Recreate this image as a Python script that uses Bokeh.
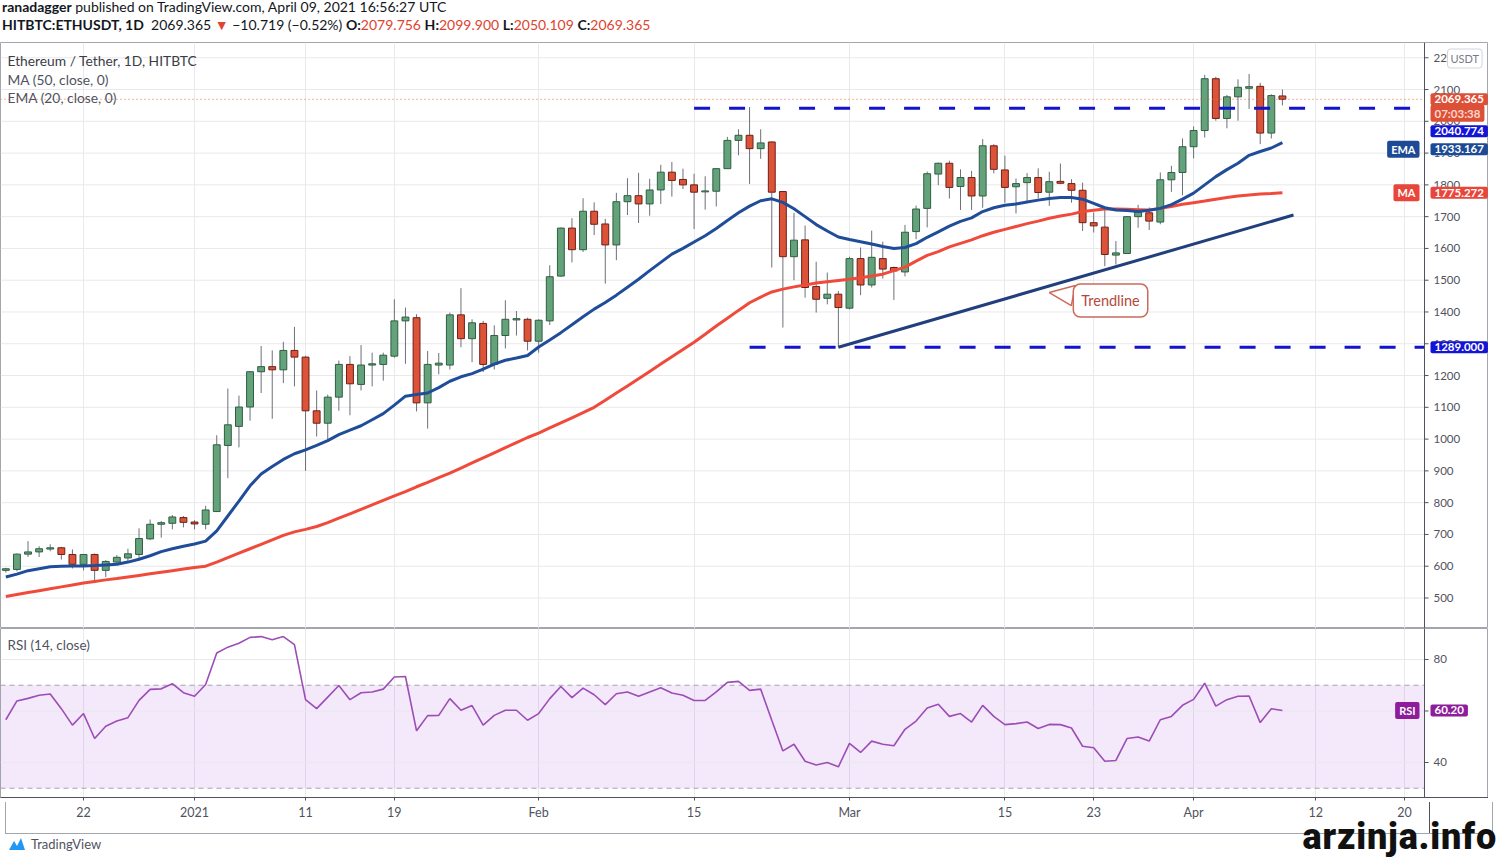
import pandas as pd
from bokeh.plotting import figure
from bokeh.models import (ColumnDataSource, FixedTicker, Label, Span, BoxAnnotation,
                          Div, Range1d, Grid)
from bokeh.layouts import column
from bokeh.embed import file_html
from bokeh.resources import INLINE
from bokeh.core.properties import value

FONT = "Lato"

# ---------------- data ----------------
start_date = "2020-12-15"
n_days = 116
dates = pd.date_range(start_date, periods=n_days, freq="D")

opens = [587, 590, 638, 645, 654, 658, 637, 606, 637, 587,
         613, 626, 637, 686, 732, 735, 753, 739, 732, 772,
         980, 1040, 1101, 1212, 1228, 1218, 1279, 1258, 1089, 1050,
         1132, 1235, 1172, 1233, 1235, 1261, 1372, 1382, 1114, 1233,
         1233, 1391, 1316, 1364, 1235, 1326, 1375, 1377, 1308, 1372,
         1513, 1664, 1596, 1717, 1677, 1611, 1747, 1766, 1740, 1784,
         1840, 1817, 1800, 1778, 1780, 1851, 1940, 1956, 1914, 1935,
         1779, 1574, 1627, 1480, 1443, 1456, 1412, 1568, 1485, 1568,
         1540, 1526, 1653, 1726, 1834, 1868, 1795, 1823, 1765, 1923,
         1847, 1794, 1807, 1823, 1777, 1811, 1804, 1783, 1681, 1667,
         1579, 1584, 1700, 1712, 1683, 1816, 1839, 1920, 1971, 2134,
         2009, 2077, 2104, 2110, 1963, 2079.756]
highs = [595, 640, 679, 663, 669, 661, 653, 638, 640, 619,
         635, 655, 719, 747, 742, 761, 758, 745, 790, 1012,
         1159, 1137, 1214, 1293, 1279, 1306, 1353, 1262, 1153, 1140,
         1247, 1261, 1296, 1272, 1272, 1440, 1414, 1393, 1277, 1271,
         1398, 1475, 1377, 1372, 1358, 1437, 1403, 1382, 1377, 1547,
         1666, 1695, 1758, 1745, 1693, 1775, 1821, 1838, 1819, 1863,
         1872, 1851, 1835, 1827, 1853, 1951, 1975, 2045, 1975, 1937,
         1781, 1712, 1672, 1558, 1524, 1466, 1574, 1603, 1656, 1621,
         1543, 1674, 1735, 1842, 1870, 1876, 1849, 1844, 1944, 1928,
         1892, 1820, 1837, 1852, 1841, 1867, 1818, 1807, 1713, 1725,
         1623, 1702, 1737, 1729, 1839, 1860, 1946, 1984, 2146, 2140,
         2083, 2132, 2149, 2121, 2085, 2099.9]
lows = [580, 584, 629, 629, 647, 621, 593, 587, 550, 566,
        608, 616, 626, 682, 690, 716, 722, 716, 716, 772,
        877, 974, 1058, 1145, 1064, 1176, 1166, 900, 1008, 998,
        1089, 1075, 1153, 1166, 1184, 1256, 1237, 1087, 1033, 1204,
        1219, 1289, 1242, 1211, 1219, 1285, 1326, 1279, 1272, 1359,
        1511, 1556, 1589, 1642, 1489, 1563, 1705, 1680, 1703, 1740,
        1763, 1787, 1661, 1722, 1732, 1851, 1893, 1803, 1882, 1540,
        1351, 1500, 1445, 1398, 1424, 1289, 1408, 1453, 1477, 1505,
        1438, 1512, 1629, 1666, 1799, 1757, 1721, 1721, 1728, 1836,
        1744, 1710, 1749, 1757, 1734, 1802, 1744, 1655, 1650, 1544,
        1549, 1584, 1665, 1658, 1676, 1778, 1767, 1883, 1949, 2002,
        1978, 2002, 2039, 1928, 1946, 2050.109]
closes = [592, 638, 645, 655, 658, 637, 606, 637, 587, 615,
          628, 639, 687, 732, 737, 755, 738, 733, 777, 982,
          1045, 1101, 1212, 1228, 1218, 1279, 1258, 1089, 1050, 1132,
          1235, 1174, 1233, 1237, 1264, 1372, 1384, 1114, 1235, 1239,
          1391, 1316, 1366, 1235, 1326, 1377, 1379, 1308, 1374, 1511,
          1664, 1596, 1717, 1676, 1611, 1747, 1766, 1740, 1784, 1840,
          1814, 1800, 1777, 1781, 1851, 1940, 1956, 1914, 1932, 1777,
          1574, 1626, 1477, 1440, 1456, 1414, 1568, 1485, 1572, 1535,
          1529, 1651, 1724, 1835, 1868, 1792, 1823, 1765, 1923, 1849,
          1792, 1804, 1823, 1776, 1810, 1805, 1783, 1681, 1671, 1581,
          1586, 1700, 1715, 1686, 1816, 1839, 1920, 1971, 2134, 2009,
          2077, 2107, 2109, 1963, 2081, 2069.365]

ema20 = [566, 575, 586, 592, 598, 600, 601, 601, 602, 604,
         606, 613, 622, 633, 646, 655, 663, 670, 679, 711,
         758, 805, 853, 890, 914, 936, 954, 966, 980, 995,
         1014, 1028, 1042, 1061, 1080, 1107, 1135, 1140, 1145, 1162,
         1182, 1196, 1206, 1220, 1236, 1248, 1255, 1263, 1290, 1312,
         1335, 1360, 1385, 1409, 1430, 1453, 1478, 1503, 1530, 1556,
         1582, 1600, 1620, 1640, 1663, 1688, 1712, 1733, 1750, 1756,
         1745, 1725, 1700, 1675, 1655, 1636, 1628, 1621, 1614, 1606,
         1600, 1603, 1615, 1635, 1652, 1670, 1685, 1696, 1716, 1728,
         1736, 1740, 1746, 1752, 1757, 1760, 1760, 1755, 1742, 1728,
         1721, 1719, 1716, 1720, 1726, 1738, 1755, 1774, 1800, 1826,
         1848, 1868, 1893, 1905, 1916, 1933.167]
ma50 = [505, 511, 517, 523, 529, 535, 541, 547, 552, 557,
        561, 566, 571, 576, 581, 586, 591, 596, 600, 613,
        627, 641, 655, 669, 683, 697, 708, 716, 725, 737,
        751, 765, 779, 793, 807, 821, 835, 850, 864, 879,
        893, 909, 925, 941, 957, 973, 989, 1005, 1019, 1035,
        1051, 1067, 1083, 1100, 1122, 1145, 1167, 1190, 1213, 1236,
        1259, 1282, 1305, 1330, 1356, 1380, 1405, 1429, 1447, 1463,
        1472, 1479, 1485, 1491, 1495, 1499, 1503, 1508, 1513, 1519,
        1530, 1541, 1560, 1578, 1590, 1605, 1616, 1627, 1640, 1651,
        1660, 1669, 1678, 1686, 1695, 1702, 1708, 1716, 1720, 1724,
        1724, 1723, 1722, 1721, 1726, 1732, 1739, 1744, 1749, 1755,
        1760, 1765, 1768, 1771, 1773, 1775.272]
rsi14 = [56.6, 63.9, 64.9, 66.1, 66.6, 60.9, 54.5, 59.0, 49.3, 54.1,
         56.1, 57.4, 64.1, 68.4, 68.6, 70.6, 67.1, 65.7, 70.3, 82.5,
         84.8, 86.3, 88.6, 88.9, 87.7, 88.9, 85.8, 64.4, 60.9, 65.4,
         69.9, 64.4, 67.1, 67.4, 68.5, 73.2, 73.4, 52.3, 58.2, 58.3,
         64.8, 60.3, 62.1, 54.5, 58.3, 60.3, 60.3, 56.4, 59.0, 64.8,
         69.5, 65.2, 68.9, 66.3, 62.5, 66.7, 67.4, 65.7, 67.4, 69.0,
         67.0, 66.1, 64.1, 64.1, 67.4, 71.1, 71.5, 68.0, 68.5, 56.4,
         44.5, 47.1, 40.5, 39.0, 40.0, 38.3, 47.4, 43.9, 48.3, 47.1,
         46.5, 52.9, 56.1, 61.2, 62.6, 57.9, 59.0, 55.7, 62.2, 57.9,
         54.7, 55.1, 55.7, 53.2, 54.8, 54.7, 53.4, 46.3, 45.7, 40.5,
         40.8, 49.3, 49.9, 48.3, 56.6, 57.9, 62.2, 64.5, 70.8, 61.9,
         64.4, 65.7, 65.8, 55.5, 60.9, 60.20]

# horizontal levels drawn by the author
level_prices = [2040.774, 1289.0]
level_starts = ["2021-02-15", "2021-02-20"]
# trendline
trend_dates = ["2021-02-28", "2021-04-10"]
trend_prices = [1289, 1705]
callout_date = "2021-03-19"
callout_price = 1461
countdown = "07:03:38"

# time axis
tick_dates = ["2020-12-22", "2021-01-01", "2021-01-11", "2021-01-19", "2021-02-01",
              "2021-02-15", "2021-03-01", "2021-03-15", "2021-03-23", "2021-04-01",
              "2021-04-12", "2021-04-20"]
tick_labels = ["22", "2021", "11", "19", "Feb", "15", "Mar", "15", "23", "Apr", "12", "20"]
price_ticks = list(range(500, 2300, 100))
rsi_ticks = [40, 60, 80]

# ---------------- helpers ----------------
t0 = dates[0]
def day_of(d):
    return (pd.Timestamp(d) - t0).days

day = [(d - t0).days for d in dates]
tick_days = [day_of(d) for d in tick_dates]

GRID = "#e9e9ec"
AXIS = "#50535e"
LABEL = "#50535e"
BORDER = "#a3a6af"
UP_FILL, UP_LINE = "#64a27c", "#2f5e40"
DN_FILL, DN_LINE = "#dc5339", "#6d2016"
WICK = "#6e7079"

FULL_W = 1488          # whole chart width (plot + price scale)
SCALE_W = 64           # price scale width
HEAD_H = 32
MAIN_H = 586
RSI_FRAME_H = 169
AXIS_H = 31
FOOT_H = 23

x_start, AX_X = -0.48, 127.8                  # AX_X: where the price scale begins
px_day = (FULL_W - SCALE_W) / (AX_X - x_start)
def dx(px):
    return px / px_day
xr = Range1d(x_start, AX_X + dx(SCALE_W))

ymin, ymax = 404, 2248
ppu = MAIN_H / (ymax - ymin)
def p2y(px_from_top):
    return ymax - px_from_top / ppu
def y2p(price):
    return (ymax - price) * ppu


def price_scale(fig, ticks, size="11.5px"):
    k = len(ticks)
    fig.segment(x0=[xr.start] * k, y0=ticks, x1=[AX_X] * k, y1=ticks,
                line_color=GRID, line_width=1)
    fig.add_layout(Span(location=AX_X, dimension="height", line_color=AXIS, line_width=1))
    fig.segment(x0=[AX_X] * k, y0=ticks, x1=[AX_X + dx(4)] * k, y1=ticks,
                line_color=AXIS, line_width=1)
    fig.text(x=[AX_X + dx(9)] * k, y=ticks, text=[str(t) for t in ticks],
             text_font=value(FONT), text_font_size=size, text_color=LABEL,
             text_align="left", text_baseline="middle")


PAD_X, PAD_Y = 4, 2
TAG_PAD = dict(left=PAD_X, right=PAD_X, top=PAD_Y, bottom=PAD_Y)

def tag(fig, xpos, ycenter, text, bg, color="white", align="left", size="11.5px"):
    fig.add_layout(Label(x=xpos, y=ycenter, text=text,
                         text_align=align, text_baseline="middle", text_font=FONT,
                         text_font_size=size, text_font_style="bold", text_color=color,
                         background_fill_color=bg, padding=TAG_PAD, border_radius=2))


def vgrid(fig):
    t = FixedTicker(ticks=tick_days)
    if len(fig.xgrid):
        fig.xgrid.ticker = t
        fig.xgrid.grid_line_color = GRID
    else:
        fig.add_layout(Grid(dimension=0, ticker=t, grid_line_color=GRID))
    if len(fig.ygrid):
        fig.ygrid.visible = False


# ---------------- main pane ----------------
p = figure(width=FULL_W, height=MAIN_H, x_range=xr, y_range=Range1d(ymin, ymax),
           x_axis_location=None, y_axis_location=None,
           output_backend="svg", toolbar_location=None,
           min_border_left=0, min_border_right=0, min_border_top=0, min_border_bottom=0,
           background_fill_color="white", border_fill_color="white",
           outline_line_color=BORDER)
vgrid(p)
price_scale(p, price_ticks)

up = [c >= o for o, c in zip(opens, closes)]
src = ColumnDataSource(dict(
    x=day, h=highs, l=lows,
    top=[max(o, c) for o, c in zip(opens, closes)],
    bottom=[min(o, c) for o, c in zip(opens, closes)],
    fill=[UP_FILL if u else DN_FILL for u in up],
    line=[UP_LINE if u else DN_LINE for u in up],
))
p.segment(x0="x", y0="h", x1="x", y1="l", source=src, line_color=WICK, line_width=1)
p.vbar(x="x", width=0.62, top="top", bottom="bottom", source=src,
       fill_color="fill", line_color="line", line_width=1)

p.line(day, ma50, line_color="#f04a3b", line_width=3)
p.line(day, ema20, line_color="#1f4d99", line_width=3)
p.line([day_of(d) for d in trend_dates], trend_prices, line_color="#213f7c", line_width=3)

p.segment(x0=[day_of(d) for d in level_starts], y0=level_prices,
          x1=[AX_X] * len(level_prices), y1=level_prices,
          line_color="#1212cf", line_width=3, line_dash="16 19")

p.segment(x0=[xr.start], y0=[closes[-1]], x1=[AX_X], y1=[closes[-1]],
          line_color="#e2674f", line_dash="1 3", line_width=1)

# Trendline callout
cx, cy = day_of(callout_date), callout_price
p.patch([cx, cx + dx(26), cx + dx(22)],
        [cy, cy + 7 / ppu, cy - 13 / ppu],
        fill_color="white", line_color="#cc6a5d", line_width=1.5)
p.add_layout(Label(x=cx + dx(24), y=cy - 8 / ppu, text="Trendline",
                   text_align="left", text_baseline="middle", text_font=FONT,
                   text_font_size="14.5px", text_color="#b5473a",
                   background_fill_color="white", border_line_color="#cc6a5d",
                   border_line_width=1.5, padding=8, border_radius=7))

# pane legend texts
for i, (txt, col) in enumerate([("Ethereum / Tether, 1D, HITBTC", "#3a3d45"),
                                 ("MA (50, close, 0)", "#50535e"),
                                 ("EMA (20, close, 0)", "#50535e")]):
    p.add_layout(Label(x=xr.start + dx(7), y=p2y(18 + 18.5 * i), text=txt,
                       text_align="left", text_baseline="middle", text_font=FONT,
                       text_font_size="13.8px", text_color=col))

# price-scale tags (stacked like TradingView)
TAG_X = AX_X + dx(2 + PAD_X)
LEFT_X = AX_X - dx(1 + PAD_X)
TAG_H = 17
last_px = y2p(closes[-1])
tag(p, TAG_X, closes[-1], f"{closes[-1]:.3f}", "#dd5038")
tag(p, TAG_X, p2y(last_px + 14), countdown, "#dd5038", color="#ffd6cc")
next_top = last_px + 14 + TAG_H / 2 + 1
lvl_px = max(y2p(level_prices[0]) - TAG_H / 2, next_top) + TAG_H / 2
tag(p, TAG_X, p2y(lvl_px), f"{level_prices[0]:.3f}", "#1414d6")
next_top = lvl_px + TAG_H / 2 + 1
ema_px = max(y2p(ema20[-1]) - TAG_H / 2, next_top) + TAG_H / 2
tag(p, TAG_X, p2y(ema_px), f"{ema20[-1]:.3f}", "#1d4a96")
tag(p, LEFT_X, p2y(ema_px), "EMA", "#1d4a96", align="right", size="11px")
tag(p, TAG_X, ma50[-1], f"{ma50[-1]:.3f}", "#e8463a")
tag(p, LEFT_X, ma50[-1], "MA", "#e8463a", align="right", size="11px")
tag(p, TAG_X, level_prices[1], f"{level_prices[1]:.3f}", "#1414d6")

p.add_layout(Label(x=AX_X + dx(23), y=p2y(16), text="USDT",
                   text_align="left", text_baseline="middle", text_font=FONT,
                   text_font_size="11px", text_color="#787b86",
                   background_fill_color="white", border_line_color="#d1d4dc",
                   padding=3, border_radius=3))

# ---------------- RSI pane ----------------
rmin, rmax = 26.4, 92.04
rppu = RSI_FRAME_H / (rmax - rmin)
r = figure(width=FULL_W, height=RSI_FRAME_H + AXIS_H, x_range=xr,
           y_range=Range1d(rmin, rmax), y_axis_location=None,
           output_backend="svg", toolbar_location=None,
           min_border_left=0, min_border_right=0, min_border_top=0,
           min_border_bottom=AXIS_H,
           background_fill_color="white", border_fill_color="white",
           outline_line_color=BORDER)
vgrid(r)
r.add_layout(BoxAnnotation(bottom=30, top=70, right=AX_X, fill_color="#9b2fde",
                           fill_alpha=0.11, line_color=None, level="underlay"))
price_scale(r, rsi_ticks)
r.segment(x0=[xr.start] * 2, y0=[70, 30], x1=[AX_X] * 2, y1=[70, 30],
          line_color="#a4a4ab", line_dash="5 4", line_width=1)
r.line(day, rsi14, line_color="#9c4db6", line_width=1.6)

xa = r.xaxis[0]
xa.ticker = FixedTicker(ticks=tick_days)
xa.major_label_overrides = {d: lbl for d, lbl in zip(tick_days, tick_labels)}
xa.axis_line_color = AXIS
xa.major_tick_line_color = AXIS
xa.major_tick_out = 3
xa.major_tick_in = 0
xa.minor_tick_line_color = None
xa.major_label_text_font = FONT
xa.major_label_text_font_size = "12.5px"
xa.major_label_text_color = LABEL
xa.major_label_standoff = 4

r.add_layout(Label(x=xr.start + dx(7), y=rmax - 16 / rppu, text="RSI (14, close)",
                   text_align="left", text_baseline="middle", text_font=FONT,
                   text_font_size="13.5px", text_color="#50535e"))
tag(r, TAG_X, rsi14[-1], f"{rsi14[-1]:.2f}", "#8e1d9b")
tag(r, LEFT_X, rsi14[-1], "RSI", "#8e1d9b", align="right", size="11px")

# ---------------- header / footer ----------------
RED = "#e0432f"
header = Div(width=FULL_W, height=HEAD_H, text=f"""
<div style="position:relative; width:{FULL_W}px; height:{HEAD_H}px; font-family:Lato, sans-serif;
 font-size:14px; line-height:18px; color:#131722; white-space:nowrap;">
 <div style="position:absolute; left:-3px; top:-7px;"><b>ranadagger</b> published on TradingView.com, April 09, 2021 16:56:27 UTC</div>
 <div style="position:absolute; left:-3px; top:11px;"><b>HITBTC:ETHUSDT, 1D</b>&nbsp; 2069.365
 <span style="color:{RED}">&#9660;</span> &minus;10.719 (&minus;0.52%)
 <b>O:</b><span style="color:{RED}">2079.756</span> <b>H:</b><span style="color:{RED}">2099.900</span>
 <b>L:</b><span style="color:{RED}">2050.109</span> <b>C:</b><span style="color:{RED}">2069.365</span></div>
</div>""")

footer = Div(width=FULL_W, height=FOOT_H, text=f"""
<div style="position:relative; width:{FULL_W}px; height:{FOOT_H}px;">
 <div style="position:absolute; left:0; top:-{AXIS_H}px; width:{FULL_W}px; height:{AXIS_H + 1}px;
  box-sizing:border-box; border-left:1px solid {BORDER}; border-right:1px solid {BORDER};
  border-bottom:1px solid {BORDER};"></div>
 <div style="position:absolute; left:{FULL_W - SCALE_W}px; top:-{AXIS_H}px; width:0; height:{AXIS_H}px;
  border-left:1px solid {AXIS};"></div>
 <div style="position:absolute; left:3px; top:3px; display:flex; align-items:center;
  font-family:Lato, sans-serif; font-size:13px; line-height:16px; color:#50535e;">
  <svg width="18" height="14" viewBox="0 0 18 14" style="margin-right:5px">
   <path d="M1 13 L6 4 L9 9 L13 1 L17 13 Z" fill="#2196f3"/>
  </svg>TradingView</div>
 <div style="position:absolute; right:-4px; top:-14px; font-family:'Liberation Sans Narrow','Roboto',sans-serif;
  font-size:36px; font-weight:900; color:#111; line-height:36px; letter-spacing:0.8px;">arzinja.info</div>
</div>""")

layout = column(header, p, r, footer, spacing=0)
open("out.html", "w").write(file_html(layout, INLINE))
